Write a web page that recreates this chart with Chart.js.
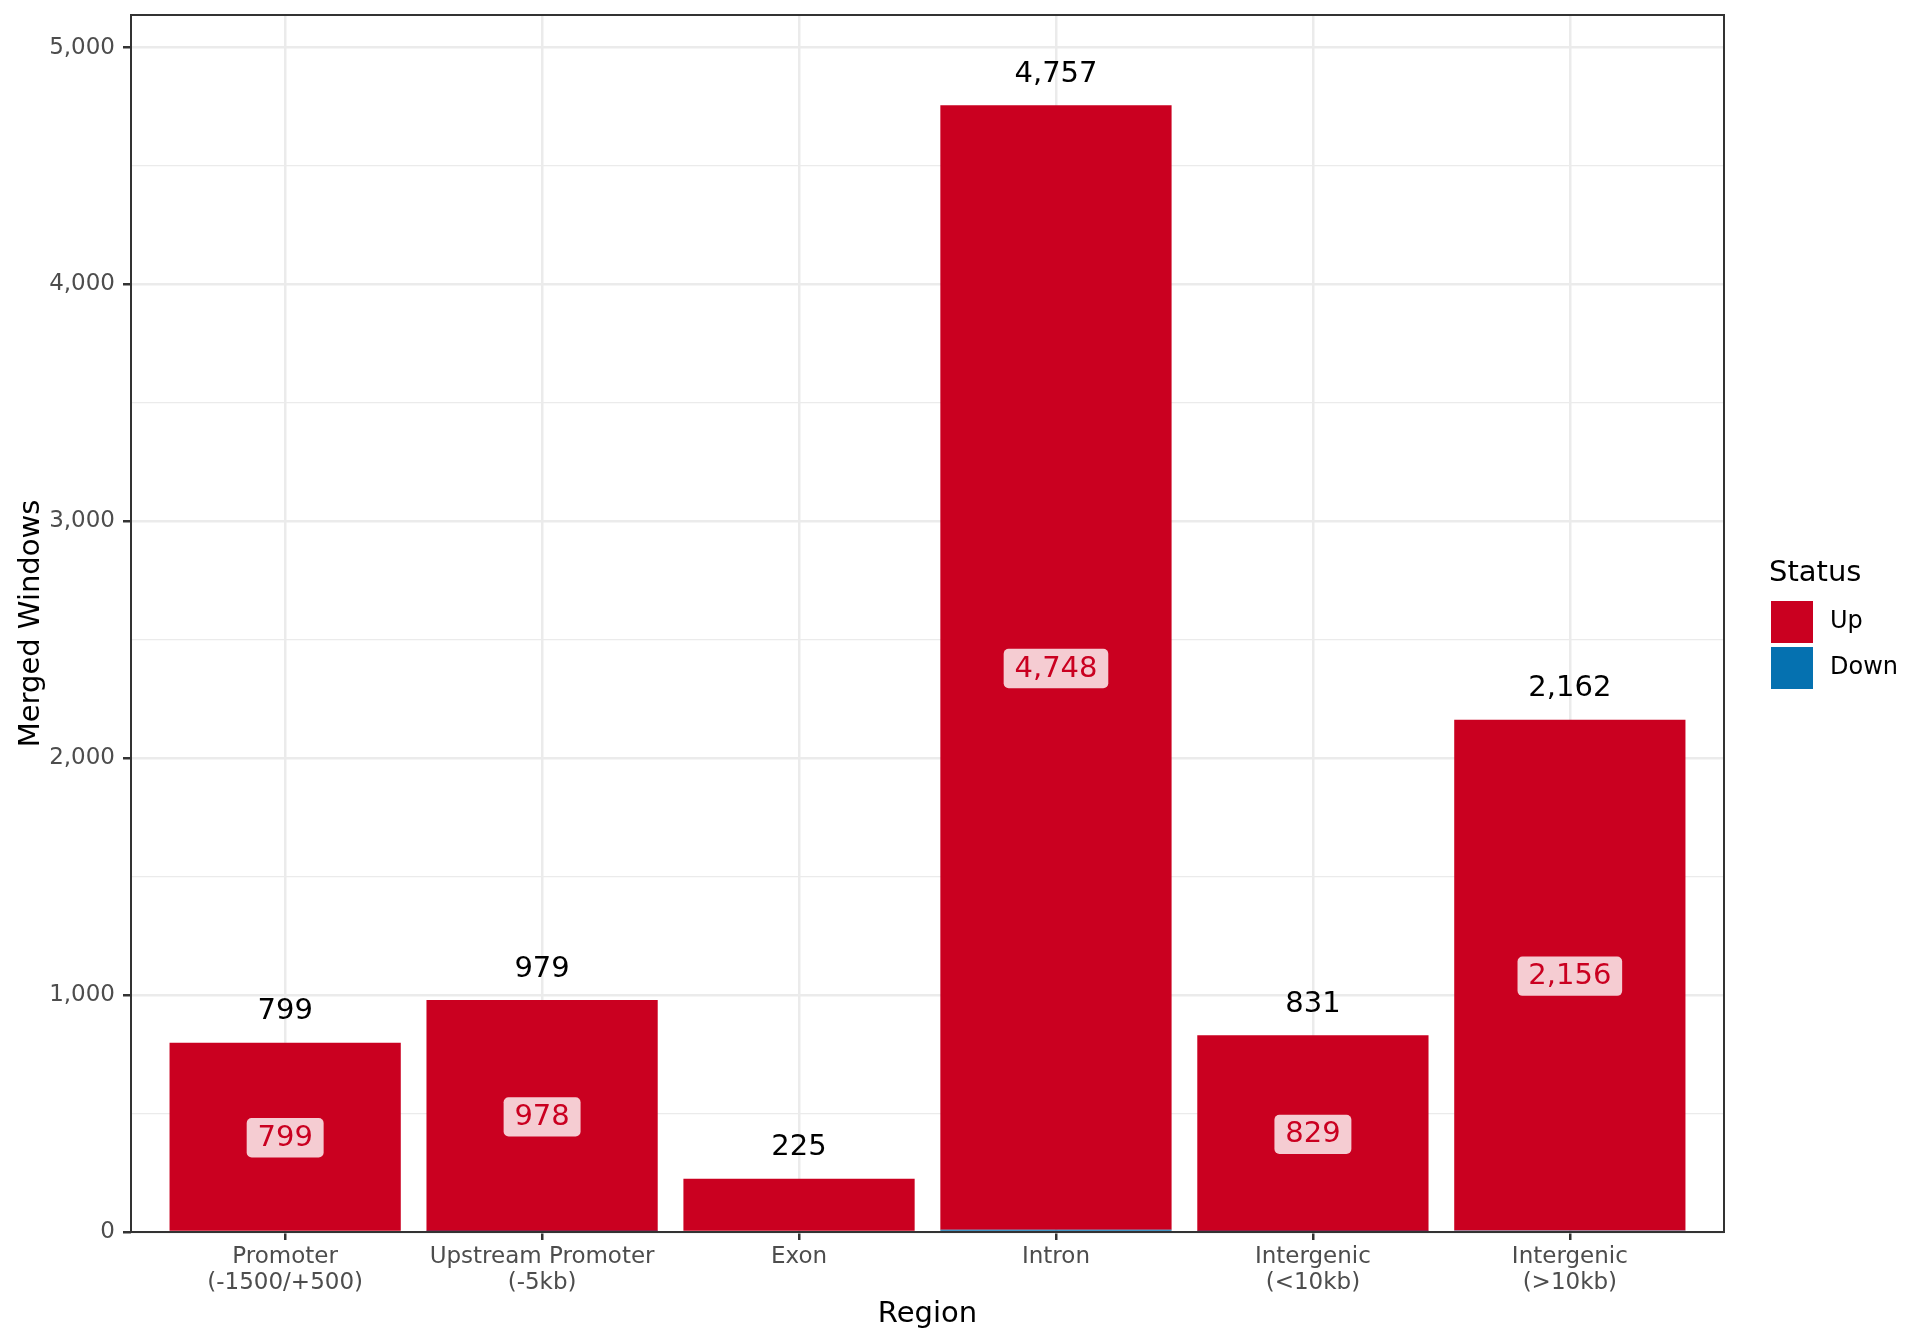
<!DOCTYPE html>
<html>
<head>
<meta charset="utf-8">
<script src="https://cdn.jsdelivr.net/npm/chart.js@4"></script>
<style>
html,body{margin:0;padding:0;background:#fff;}
#wrap{width:1920px;height:1344px;}
</style>
</head>
<body>
<div id="wrap"><canvas id="c" width="1920" height="1344"></canvas></div>
<script>
// ---- data ----
const categories = ['Promoter\n(-1500/+500)', 'Upstream Promoter\n(-5kb)', 'Exon', 'Intron', 'Intergenic\n(<10kb)', 'Intergenic\n(>10kb)'];
const upValues = [799, 978, 225, 4748, 829, 2156];
const downValues = [0, 1, 0, 9, 2, 6];
const yTickValues = [0, 500, 1000, 1500, 2000, 2500, 3000, 3500, 4000, 4500, 5000];
const yLabelStep = 1000;
const statusLabels = ['Down', 'Up'];
const statusColors = ['#0571B0', '#CA0020'];
const innerLabelMin = 300;
const xTitle = 'Region';
const yTitle = 'Merged Windows';
const legendTitle = 'Status';

// ---- derived ----
const totals = upValues.map((u, i) => u + downValues[i]);
const xPos = categories.map((_, i) => i + 1);
const fmt = v => Number(v).toLocaleString('en-US');
const FONT = "'DejaVu Sans', sans-serif";
Chart.defaults.font.family = FONT;

const bgPlugin = {
  id: 'bg',
  beforeDraw(chart) {
    const ctx = chart.ctx;
    ctx.save();
    ctx.fillStyle = '#ffffff';
    ctx.fillRect(0, 0, chart.width, chart.height);
    ctx.restore();
  }
};

const labelPlugin = {
  id: 'labels',
  afterDatasetsDraw(chart) {
    const { ctx, scales: { x, y } } = chart;
    const upMeta = chart.getDatasetMeta(1);
    ctx.save();
    ctx.font = '29px ' + FONT;
    ctx.textAlign = 'center';
    ctx.textBaseline = 'middle';
    totals.forEach((t, i) => {
      const px = x.getPixelForValue(xPos[i]);
      ctx.fillStyle = '#000000';
      ctx.fillText(fmt(t), px, y.getPixelForValue(t) - 31);
      if (upValues[i] >= innerLabelMin) {
        const el = upMeta.data[i];
        const cy = (el.y + el.base) / 2 + 1;
        const txt = fmt(upValues[i]);
        const w = ctx.measureText(txt).width + 21.6;
        const h = 39.3;
        ctx.fillStyle = 'rgba(255,255,255,0.8)';
        ctx.beginPath();
        ctx.roundRect(px - w / 2, cy - h / 2, w, h, 5);
        ctx.fill();
        ctx.fillStyle = statusColors[1];
        ctx.fillText(txt, px, cy + 0.5);
      }
    });
    ctx.restore();
  }
};

const borderPlugin = {
  id: 'panelBorder',
  afterDraw(chart) {
    const { ctx, chartArea: a } = chart;
    ctx.save();
    ctx.strokeStyle = '#333333';
    ctx.lineWidth = 2;
    ctx.strokeRect(a.left, a.top, a.right - a.left, a.bottom - a.top);
    ctx.restore();
  }
};

const legendPlugin = {
  id: 'customLegend',
  afterDraw(chart) {
    const ctx = chart.ctx;
    const ds = chart.data.datasets.slice().reverse();
    ctx.save();
    ctx.fillStyle = '#000000';
    ctx.font = '29px ' + FONT;
    ctx.textAlign = 'left';
    ctx.textBaseline = 'alphabetic';
    ctx.fillText(legendTitle, 1769, 581);
    ctx.font = '24px ' + FONT;
    ctx.textBaseline = 'middle';
    ds.forEach((d, i) => {
      const top = 601 + i * 46;
      ctx.fillStyle = d.backgroundColor;
      ctx.fillRect(1771, top, 42, 42);
      ctx.fillStyle = '#000000';
      ctx.fillText(d.label, 1830, top + 21);
    });
    ctx.restore();
  }
};

const isMajorY = c => c.tick && c.tick.value % yLabelStep === 0;

new Chart(document.getElementById('c'), {
  type: 'bar',
  data: {
    datasets: [
      { label: statusLabels[0], data: xPos.map((x, i) => ({ x, y: downValues[i] })), backgroundColor: statusColors[0], borderWidth: 0, barPercentage: 0.9, categoryPercentage: 1 },
      { label: statusLabels[1], data: xPos.map((x, i) => ({ x, y: upValues[i] })), backgroundColor: statusColors[1], borderWidth: 0, barPercentage: 0.9, categoryPercentage: 1 }
    ]
  },
  options: {
    responsive: false,
    animation: false,
    layout: { padding: { left: 0, right: 196, top: 15, bottom: 0 } },
    plugins: { legend: { display: false }, tooltip: { enabled: false } },
    scales: {
      x: {
        type: 'linear', min: 0.4, max: 6.6, stacked: true, offset: false,
        afterBuildTicks: s => { s.ticks = xPos.map(v => ({ value: v })); },
        afterFit: s => { s.height = 112; s.paddingLeft = 0; s.paddingRight = 0; },
        ticks: {
          autoSkip: false, maxRotation: 0, minRotation: 0, padding: 4, color: '#4D4D4D',
          font: { size: 23, lineHeight: 1.12 },
          callback: v => categories[v - 1] ? categories[v - 1].split('\n') : ''
        },
        grid: { offset: false, color: '#EBEBEB', lineWidth: 2.5, tickLength: 8, tickColor: '#333333', tickWidth: 2.5 },
        border: { display: false },
        title: { display: true, text: xTitle, color: '#000000', font: { size: 29, lineHeight: 1.2 }, padding: { top: 0, bottom: 12 } }
      },
      y: {
        min: 0, max: Math.max(...totals) * 1.08, stacked: true,
        afterBuildTicks: s => { s.ticks = yTickValues.map(v => ({ value: v })); },
        afterFit: s => { s.width = 131; s.paddingTop = 0; s.paddingBottom = 0; },
        ticks: {
          padding: 8, color: '#4D4D4D', font: { size: 23 },
          callback: v => (v % yLabelStep === 0 ? fmt(v) : '')
        },
        grid: {
          color: '#EBEBEB',
          lineWidth: c => (isMajorY(c) ? 2.5 : 1.3),
          tickLength: 8,
          tickColor: c => (isMajorY(c) ? '#333333' : 'rgba(0,0,0,0)'),
          tickWidth: 2.5
        },
        border: { display: false },
        title: { display: true, text: yTitle, color: '#000000', font: { size: 29, lineHeight: 1.2 }, padding: { top: 14, bottom: 0 } }
      }
    }
  },
  plugins: [bgPlugin, labelPlugin, borderPlugin, legendPlugin]
});
</script>
</body>
</html>
